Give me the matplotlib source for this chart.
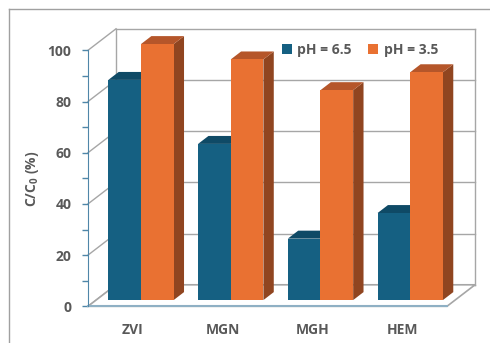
import matplotlib
matplotlib.use("Agg")
import matplotlib.pyplot as plt
from matplotlib.patches import Polygon, Patch
from matplotlib.lines import Line2D

plt.rcParams['font.family'] = 'Open Sans'
plt.rcParams['mathtext.fontset'] = 'custom'
plt.rcParams['mathtext.rm'] = 'Open Sans:bold'

# Données
categories = ['ZVI', 'MGN', 'MGH', 'HEM']
series_names = ['pH = 6.5', 'pH = 3.5']
ph65 = [86, 61, 24, 34]
ph35 = [100, 94, 82, 89]
yticks = [0, 20, 40, 60, 80, 100]

# Couleurs des faces (avant, dessus, côté)
faces = [
    ('#156082', '#0f4a66', '#0d3f57'),
    ('#e97132', '#b5562a', '#904520'),
]
grid_col = '#a6a6a6'
text_col = '#595959'

# Décalage de profondeur (unités des données)
DX, DY = 0.312, 8.4
d0, dd = 0.29, 0.37   # position et épaisseur des barres en profondeur
w = 0.364             # largeur d'une barre

fig = plt.figure(figsize=(4.9, 3.43), dpi=100)
ax = fig.add_axes([88 / 490, (343 - 306.3) / 343, 359 / 490, 256 / 343])
ax.set_xlim(0, 4)
ax.set_ylim(0, 100)

# Murs et grille
for v in yticks:
    ax.plot([DX, 4 + DX], [v + DY, v + DY], color=grid_col, lw=1, clip_on=False, zorder=1)
    ax.plot([0, DX], [v, v + DY], color=grid_col, lw=1, clip_on=False, zorder=1)
ax.plot([DX, DX], [DY, 100 + DY], color=grid_col, lw=1, clip_on=False, zorder=1)
ax.plot([4 + DX, 4 + DX], [DY, 100 + DY], color=grid_col, lw=1, clip_on=False, zorder=1)
ax.add_patch(Polygon([(0, 0), (4, 0), (4 + DX, DY), (DX, DY)], closed=True,
                     facecolor='white', edgecolor=grid_col, lw=1.2, clip_on=False, zorder=1.5))

# Barres 3D
for j, vals in enumerate([ph65, ph35]):
    front, top, side = faces[j]
    for i, v in enumerate(vals):
        x0 = i + 0.5 - w + j * w + d0 * DX
        y0 = d0 * DY
        x1 = x0 + w
        ex, ey = dd * DX, dd * DY
        z = 2 + i * 2 + j
        ax.add_patch(Polygon([(x1, y0), (x1 + ex, y0 + ey), (x1 + ex, y0 + v + ey), (x1, y0 + v)],
                             closed=True, facecolor=side, edgecolor='none', clip_on=False, zorder=z))
        ax.add_patch(Polygon([(x0, y0 + v), (x1, y0 + v), (x1 + ex, y0 + v + ey), (x0 + ex, y0 + v + ey)],
                             closed=True, facecolor=top, edgecolor='none', clip_on=False, zorder=z))
        ax.add_patch(Polygon([(x0, y0), (x1, y0), (x1, y0 + v), (x0, y0 + v)],
                             closed=True, facecolor=front, edgecolor='none', clip_on=False, zorder=z))

# Axes
for s in ['top', 'right']:
    ax.spines[s].set_visible(False)
ax.spines['left'].set_color('#4f86a8')
ax.spines['bottom'].set_color('#8fb0c4')
ax.spines['bottom'].set_linewidth(1.5)
ax.spines['left'].set_zorder(20)
ax.set_yticks(yticks)
ax.set_yticks([10, 30, 50, 70, 90], minor=True)
ax.tick_params(axis='y', which='both', length=4, color='#4f86a8', width=1,
               labelsize=10, labelcolor=text_col, pad=8)
ax.set_xticks([0.5, 1.5, 2.5, 3.5])
ax.set_xticklabels(categories)
ax.tick_params(axis='x', length=0, labelsize=10, labelcolor=text_col, pad=12)
for lab in ax.get_xticklabels() + ax.get_yticklabels():
    lab.set_fontweight('bold')
ax.patch.set_visible(False)

ax.set_ylabel('C/C$_\\mathrm{0}$ (%)', fontsize=10, fontweight='bold', color=text_col, labelpad=5)

# Légende
handles = [Patch(facecolor=faces[k][0], edgecolor='none') for k in range(2)]
leg = fig.legend(handles, series_names, loc='center', bbox_to_anchor=(360 / 490, 1 - 50 / 343),
                 ncol=2, frameon=False, handlelength=0.7, handleheight=0.7, handletextpad=0.4,
                 columnspacing=1.2, prop={'weight': 'bold', 'size': 10})
for t in leg.get_texts():
    t.set_color(text_col)

# Cadre extérieur
fig.add_artist(Line2D([8.5 / 490, 8.5 / 490], [0, 1 - 9 / 343], color='#a0a0a0', lw=1))
fig.add_artist(Line2D([8.5 / 490, 1], [1 - 9 / 343, 1 - 9 / 343], color='#a0a0a0', lw=1))

fig.savefig('out.png', dpi=100)
